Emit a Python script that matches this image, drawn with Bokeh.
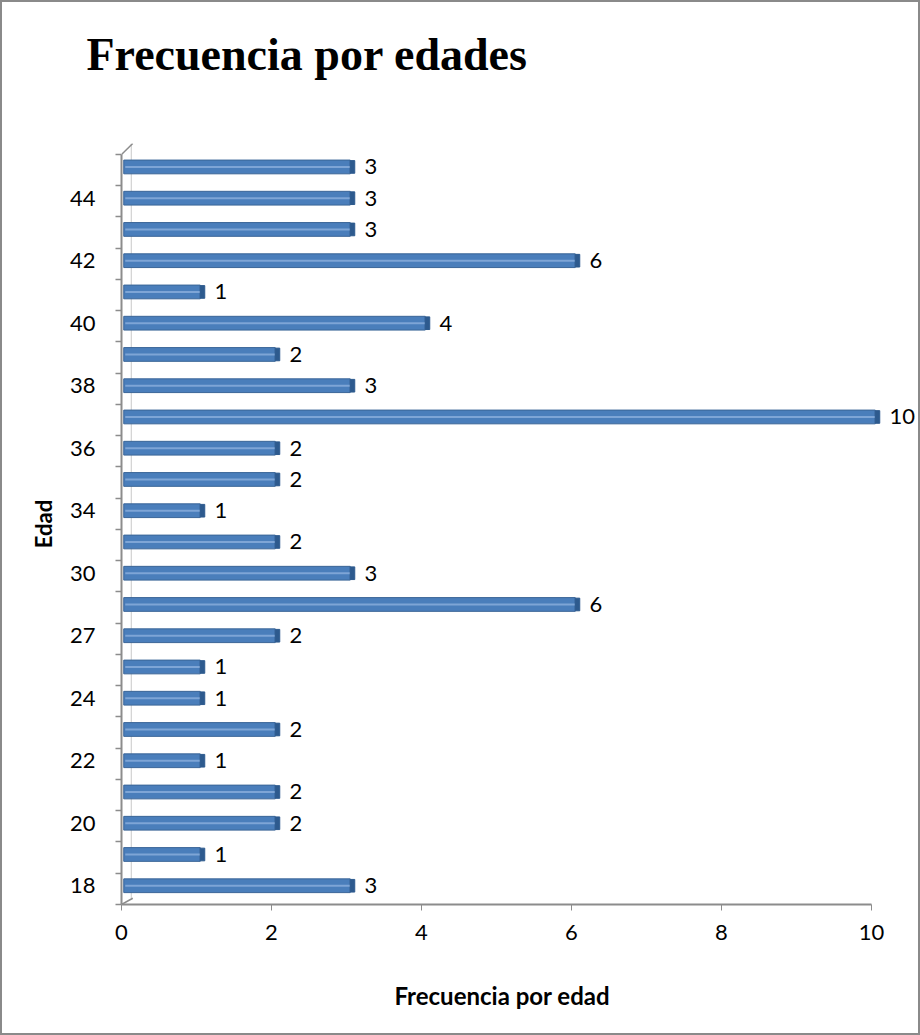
from bokeh.plotting import figure
from bokeh.models import Range1d, FixedTicker, ColumnDataSource, Title
from bokeh.layouts import column
from bokeh.embed import file_html
from bokeh.resources import INLINE
from bokeh.core.properties import value

# ---- data ----
edades = ["18", "19", "20", "21", "22", "23", "24", "25", "27", "28", "30", "32",
          "34", "35", "36", "37", "38", "39", "40", "41", "42", "43", "44", "45"]
frecuencia = [3, 1, 2, 2, 1, 2, 1, 1, 2, 6, 3, 2,
              1, 2, 2, 10, 3, 2, 4, 1, 6, 3, 3, 3]
x_ticks = [0, 2, 4, 6, 8, 10]
titulo = "Frecuencia por edades"
titulo_x = "Frecuencia por edad"
titulo_y = "Edad"

n = len(edades)
idx = list(range(n))
FONT = "Lato"

p = figure(width=916, height=1031, output_backend="svg", toolbar_location=None,
           x_range=Range1d(0, 10.6), y_range=Range1d(-0.6, n - 0.25),
           min_border_left=119, min_border_right=2, min_border_top=141,
           min_border_bottom=129, frame_width=795, frame_height=761)
p.outline_line_color = None
p.grid.visible = False
p.background_fill_color = "white"
p.border_fill_color = "white"

# title (padding tuple is left, right, top, bottom)
p.title.text = titulo
p.title.text_font = "Liberation Serif"
p.title.text_font_style = "bold"
p.title.text_font_size = "46px"
p.title.text_color = "black"
p.title.align = "left"
p.title.offset = -35
p.title.standoff = 0
p.title.padding = (0, 0, 0, 64)

# 3D wall lines
wall = "#8c8c8c"
p.segment(x0=[0.13], y0=[-0.4], x1=[0.13], y1=[n - 0.25], line_color="#c8c8c8", line_width=1)
p.segment(x0=[0, 0], y0=[n - 0.6, -0.6], x1=[0.15, 0.15], y1=[n - 0.25, -0.4],
          line_color=wall, line_width=1.5)

src = ColumnDataSource(dict(y=idx, v=frecuencia,
                            r=[f + 0.05 for f in frecuencia],
                            c=[f + 0.11 for f in frecuencia],
                            t=[str(f) for f in frecuencia]))
h = 0.44
# main face
p.hbar(y="y", left=0.03, right="r", height=h, source=src,
       fill_color="#4a7ebb", line_color="#3a6597", line_width=1)
# top highlight
p.hbar(y="y", left=0.05, right="r", height=0.06, source=src,
       fill_color="#7ea5d6", line_color=None)
# end cap (3D side)
p.hbar(y="y", left="r", right="c", height=h * 0.92, source=src,
       fill_color="#2d5a8e", line_color="#2d5a8e")
# value labels
p.text(x="v", y="y", text="t", source=src, x_offset=18,
       text_font=value(FONT), text_font_size="22px", text_color="black",
       text_baseline="middle", text_align="left")

# x axis
xa = p.xaxis[0]
xa.ticker = FixedTicker(ticks=x_ticks)
xa.bounds = (0, 10)
xa.axis_line_color = wall
xa.axis_line_width = 2
xa.major_tick_line_color = wall
xa.major_tick_out = 6
xa.major_tick_in = 0
xa.minor_tick_line_color = None
xa.major_label_text_font = FONT
xa.major_label_text_font_size = "22px"
xa.major_label_text_color = "black"
xa.major_label_standoff = 14

# x axis title (centred under the 0-10 axis)
p.add_layout(Title(text=titulo_x, align="left", offset=273, standoff=0,
                   padding=(0, 0, 36, 0),
                   text_font=FONT, text_font_style="bold", text_font_size="24px",
                   text_color="black"), "below")

# y axis
ya = p.yaxis[0]
ya.ticker = FixedTicker(ticks=idx[::2], minor_ticks=[i - 0.6 for i in range(n + 1)])
ya.major_label_overrides = {i: edades[i] for i in idx[::2]}
ya.bounds = (-0.6, n - 0.6)
ya.axis_line_color = wall
ya.axis_line_width = 2
ya.major_tick_line_color = None
ya.major_tick_out = 0
ya.major_tick_in = 0
ya.minor_tick_line_color = wall
ya.minor_tick_line_width = 1.5
ya.minor_tick_out = 6
ya.minor_tick_in = 0
ya.major_label_text_font = FONT
ya.major_label_text_font_size = "22px"
ya.major_label_text_color = "black"
ya.major_label_standoff = 20
ya.axis_label = titulo_y
ya.axis_label_text_font = FONT
ya.axis_label_text_font_style = "bold"
ya.axis_label_text_font_size = "22px"
ya.axis_label_text_color = "black"
ya.axis_label_standoff = 10

layout = column(p, styles={"border": "2px solid #8a8a8a"})
open("out.html", "w").write(file_html(layout, INLINE))
